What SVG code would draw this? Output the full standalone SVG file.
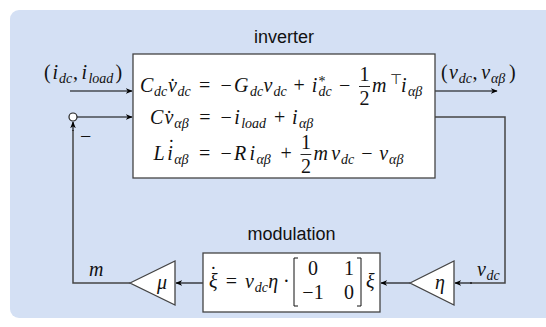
<svg xmlns="http://www.w3.org/2000/svg" width="546" height="327" viewBox="0 0 546 327">
<defs>
<marker id="ah" viewBox="0 0 10 10" refX="9" refY="5" markerWidth="7" markerHeight="7" markerUnits="userSpaceOnUse" orient="auto">
<path d="M0,1 L10,5 L0,9 L3,5 Z" fill="#000"/>
</marker>
</defs>
<style>
.bg{fill:#d4e0f4;stroke:none}
.box{fill:#fff;stroke:#444;stroke-width:1.3}
.ttl{font-family:"Liberation Sans",Arial,sans-serif;font-size:18px;fill:#111;text-anchor:middle}
.m{font-family:"Liberation Serif","Times New Roman",serif;font-size:20px;fill:#111}
.i{font-style:italic}
.n{font-style:normal}
.s{font-size:14px}
.c{text-anchor:middle}
.arr{fill:none;stroke:#000;stroke-width:1.1}
.ln{fill:none;stroke:#444;stroke-width:1.5}
.bar{stroke:#111;stroke-width:0.9}
.brk{fill:none;stroke:#111;stroke-width:1}
</style>
<rect class="bg" x="10" y="10" width="560" height="308" rx="9"/>

<g id="connectors">
<path class="arr" d="M70,91 L132,91" marker-end="url(#ah)"/>
<path class="arr" d="M77,117 L132,117" marker-end="url(#ah)"/>
<path class="ln" d="M130,283 L73,283 L73,130"/>
<path class="arr" d="M73,131 L73,122" marker-end="url(#ah)"/>
<path class="arr" d="M435,91 L497,91" marker-end="url(#ah)"/>
<path class="ln" d="M435,117 L505,117 L505,283 L470,283"/>
<path class="arr" d="M472,283 L455,283" marker-end="url(#ah)"/>
<path class="arr" d="M410,283 L381,283" marker-end="url(#ah)"/>
<path class="arr" d="M203,283 L176,283" marker-end="url(#ah)"/>
</g>

<g id="sum">
<circle cx="73" cy="117" r="4" fill="#fff" stroke="#222" stroke-width="1.2"/>
<text class="m" x="80" y="143">−</text>
</g>

<g id="labels">
<text class="m i" y="79"><tspan class="n" x="44">(</tspan><tspan x="52.5">i</tspan><tspan class="s" x="58.9" y="83">dc</tspan><tspan class="n" x="73" y="79">,</tspan><tspan x="81.4">i</tspan><tspan class="s" x="88.4" y="83">load</tspan><tspan class="n" x="115.5" y="79">)</tspan></text>
<text class="m i" y="79"><tspan class="n" x="441">(</tspan><tspan x="449">v</tspan><tspan class="s" x="458.7" y="83">dc</tspan><tspan class="n" x="472.5" y="79">,</tspan><tspan x="481.2">v</tspan><tspan class="s" x="491" y="83">αβ</tspan><tspan class="n" x="509" y="79">)</tspan></text>
<text class="m i" x="89" y="276">m</text>
<text class="m i" y="276"><tspan x="477">v</tspan><tspan class="s" x="486.5" y="280">dc</tspan></text>
</g>

<g id="inverter">
<text class="ttl" x="284" y="43">inverter</text>
<rect class="box" x="133" y="54" width="302" height="124"/>
<text class="m i" y="92"><tspan x="140">C</tspan><tspan class="s" x="154" y="96">dc</tspan><tspan x="168" y="92">v̇</tspan><tspan class="s" x="177.5" y="96">dc</tspan><tspan class="n" x="199.1" y="92">=</tspan><tspan class="n" x="220.5">−</tspan><tspan x="234.1">G</tspan><tspan class="s" x="250.1" y="96">dc</tspan><tspan x="263.6" y="92">v</tspan><tspan class="s" x="273.4" y="96">dc</tspan><tspan class="n" x="293.6" y="92">+</tspan><tspan x="311.7">i</tspan><tspan class="s n" x="318.5" y="86">*</tspan><tspan class="s" x="318.5" y="96">dc</tspan><tspan class="n" x="338.9" y="92">−</tspan><tspan x="372">m</tspan><tspan class="s n" x="389.5" y="84">⊤</tspan><tspan x="401" y="92">i</tspan><tspan class="s" x="407.9" y="96">αβ</tspan></text>
<text class="m c" x="364.5" y="81">1</text>
<line class="bar" x1="359" y1="86.5" x2="370" y2="86.5"/>
<text class="m c" x="364.5" y="105">2</text>

<text class="m i" y="124"><tspan x="150">C</tspan><tspan x="164.5">v̇</tspan><tspan class="s" x="174.3" y="128">αβ</tspan><tspan class="n" x="199.2" y="124">=</tspan><tspan class="n" x="220.6">−</tspan><tspan x="234.2">i</tspan><tspan class="s" x="241.2" y="128">load</tspan><tspan class="n" x="274" y="124">+</tspan><tspan x="292">i</tspan><tspan class="s" x="299" y="128">αβ</tspan></text>

<text class="m i" y="160"><tspan x="153.4">L</tspan><tspan x="167.2">i</tspan><tspan class="s" x="174.2" y="164">αβ</tspan><tspan class="n" x="199.1" y="160">=</tspan><tspan class="n" x="220.5">−</tspan><tspan x="234.1">R</tspan><tspan x="249.5">i</tspan><tspan class="s" x="256.5" y="164">αβ</tspan><tspan class="n" x="280.4" y="160">+</tspan><tspan x="313.4">m</tspan><tspan x="331.2">v</tspan><tspan class="s" x="341" y="164">dc</tspan><tspan class="n" x="361.3" y="160">−</tspan><tspan x="379.3">v</tspan><tspan class="s" x="389.1" y="164">αβ</tspan></text>
<text class="m" x="168" y="154">˙</text>
<text class="m c" x="305.9" y="149">1</text>
<line class="bar" x1="300.5" y1="154.5" x2="311.3" y2="154.5"/>
<text class="m c" x="305.9" y="173">2</text>
</g>

<g id="modulation">
<text class="ttl" x="291.5" y="240">modulation</text>
<rect class="box" x="203" y="253" width="177" height="59"/>
<text class="m i" y="287.5"><tspan x="209">ξ</tspan><tspan class="n" x="225.8">=</tspan><tspan x="244.9">v</tspan><tspan class="s" x="254.7" y="291.5">dc</tspan><tspan x="268.2" y="287.5">η</tspan><tspan class="n" x="283.1">·</tspan><tspan x="366">ξ</tspan></text>
<text class="m" x="210" y="281">˙</text>
<path class="brk" d="M298,258 L294,258 L294,306 L298,306 M357,258 L361,258 L361,306 L357,306"/>
<text class="m c" x="313" y="275.3">0</text>
<text class="m c" x="349" y="275.3">1</text>
<text class="m c" x="313" y="299.3">−1</text>
<text class="m c" x="349" y="299.3">0</text>
</g>

<g id="eta">
<polygon class="box" points="410,283 454,261 454,305"/>
<text class="m i" x="435" y="289">η</text>
</g>
<g id="mu">
<polygon class="box" points="130,283 175,261 175,305"/>
<text class="m i" x="157" y="289">μ</text>
</g>
</svg>
